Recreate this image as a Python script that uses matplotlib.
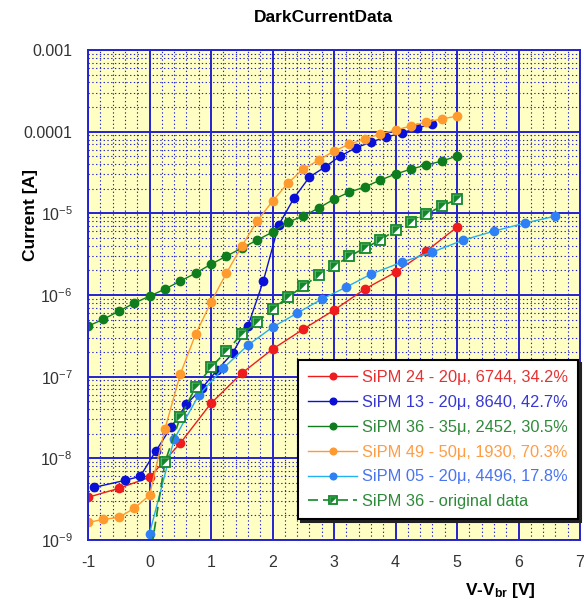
import math
import matplotlib
matplotlib.use('Agg')
import matplotlib.pyplot as plt
from matplotlib.ticker import MultipleLocator, LogLocator, FuncFormatter, NullFormatter
from matplotlib.legend_handler import HandlerTuple

plt.rcParams['font.family'] = ['Liberation Sans', 'DejaVu Sans']
plt.rcParams['mathtext.fontset'] = 'custom'
plt.rcParams['mathtext.rm'] = 'Liberation Sans'
plt.rcParams['mathtext.it'] = 'Liberation Sans:italic'
plt.rcParams['mathtext.bf'] = 'Liberation Sans:bold'

# ---------------- data ----------------
labels = [
    "SiPM 24 - 20\u03bc, 6744, 34.2%",
    "SiPM 13 - 20\u03bc, 8640, 42.7%",
    "SiPM 36 - 35\u03bc, 2452, 30.5%",
    "SiPM 49 - 50\u03bc, 1930, 70.3%",
    "SiPM 05 - 20\u03bc, 4496, 17.8%",
    "SiPM 36 - original data",
]

x_24 = [-1, -0.5, 0, 0.5, 1, 1.5, 2, 2.5, 3, 3.5, 4, 4.5, 5]
i_24 = [3.33e-9, 4.29e-9, 5.85e-9, 1.53e-8, 4.72e-8, 1.10e-7, 2.17e-7,
        3.81e-7, 6.52e-7, 1.18e-6, 1.90e-6, 3.44e-6, 6.78e-6]

x_13 = [-0.9, -0.4, -0.15, 0.1, 0.35, 0.6, 0.85, 1.1, 1.35, 1.6, 1.85, 2.1,
        2.35, 2.6, 2.85, 3.1, 3.35, 3.6, 3.85, 4.1, 4.35, 4.6]
i_13 = [4.41e-9, 5.37e-9, 6.02e-9, 1.22e-8, 2.40e-8, 4.59e-8, 7.21e-8,
        1.20e-7, 1.94e-7, 4.15e-7, 1.48e-6, 7.17e-6, 1.54e-5, 2.78e-5,
        3.68e-5, 5.02e-5, 6.30e-5, 7.46e-5, 8.59e-5, 9.61e-5, 1.11e-4, 1.24e-4]

x_36 = [-1, -0.75, -0.5, -0.25, 0, 0.25, 0.5, 0.75, 1, 1.25, 1.5, 1.75, 2,
        2.25, 2.5, 2.75, 3, 3.25, 3.5, 3.75, 4, 4.25, 4.5, 4.75, 5]
i_36 = [4.15e-7, 5.05e-7, 6.32e-7, 7.94e-7, 9.67e-7, 1.18e-6, 1.48e-6,
        1.85e-6, 2.38e-6, 2.99e-6, 3.75e-6, 4.70e-6, 5.89e-6, 7.8e-6,
        9.24e-6, 1.16e-5, 1.49e-5, 1.82e-5, 2.10e-5, 2.55e-5, 3.02e-5,
        3.48e-5, 3.90e-5, 4.36e-5, 5.02e-5]

x_49 = [-1, -0.75, -0.5, -0.25, 0, 0.25, 0.5, 0.75, 1, 1.25, 1.5, 1.75, 2,
        2.25, 2.5, 2.75, 3, 3.25, 3.5, 3.75, 4, 4.25, 4.5, 4.75, 5]
i_49 = [1.64e-9, 1.79e-9, 1.89e-9, 2.44e-9, 3.52e-9, 2.27e-8, 1.07e-7,
        3.31e-7, 8.16e-7, 1.85e-6, 3.96e-6, 8.02e-6, 1.41e-5, 2.34e-5,
        3.48e-5, 4.49e-5, 5.78e-5, 7.05e-5, 8.11e-5, 9.35e-5, 1.05e-4,
        1.17e-4, 1.31e-4, 1.43e-4, 1.55e-4]

x_05 = [0, 0.4, 0.8, 1.2, 1.6, 2.0, 2.4, 2.8, 3.2, 3.6, 4.1, 4.6, 5.1, 5.6, 6.1, 6.6]
i_05 = [1.20e-9, 1.71e-8, 5.92e-8, 1.27e-7, 2.43e-7, 4.03e-7, 5.98e-7,
        8.89e-7, 1.25e-6, 1.80e-6, 2.52e-6, 3.35e-6, 4.70e-6, 6.05e-6,
        7.59e-6, 9.24e-6]

x_orig = [0, 0.25, 0.5, 0.75, 1, 1.25, 1.5, 1.75, 2, 2.25, 2.5, 2.75, 3,
          3.25, 3.5, 3.75, 4, 4.25, 4.5, 4.75, 5]
i_orig = [5.5e-10, 8.93e-9, 3.18e-8, 7.41e-8, 1.30e-7, 2.05e-7, 3.31e-7,
          4.65e-7, 6.70e-7, 9.40e-7, 1.28e-6, 1.75e-6, 2.25e-6, 2.99e-6,
          3.75e-6, 4.70e-6, 6.22e-6, 7.80e-6, 9.77e-6, 1.22e-5, 1.49e-5]

# ---------------- styles ----------------
c_red = '#ee1c1c'
c_blue = '#0a10d8'
c_green = '#0f7d1e'
c_orange = '#ff9a2e'
c_lb_line = '#22b0ee'
c_lb_mark = '#2f80f5'
c_orig = '#11882a'
grid_c = '#2424d0'

text_colors = ['#e83030', '#3838d0', '#2f8a3a', '#ff9d45', '#4a74f0', '#2f8a3a']

fig = plt.figure(figsize=(5.84, 6.05), dpi=100)
ax = fig.add_axes([88 / 584, 65 / 605, 492 / 584, 490 / 605])
ax.set_facecolor('#ffffc4')
ax.set_yscale('log')
ax.set_xlim(-1, 7)
ax.set_ylim(1e-9, 1e-3)

ax.xaxis.set_major_locator(MultipleLocator(1))
ax.xaxis.set_minor_locator(MultipleLocator(0.2))
ax.yaxis.set_major_locator(LogLocator(base=10, numticks=20))
ax.yaxis.set_minor_locator(LogLocator(base=10, subs=range(2, 10), numticks=20))
ax.yaxis.set_minor_formatter(NullFormatter())
ax.xaxis.set_minor_formatter(NullFormatter())


def yfmt(v, pos):
    e = int(round(math.log10(v)))
    if e == -3:
        return '0.001'
    if e == -4:
        return '0.0001'
    return r'$10^{%d}$' % e


ax.yaxis.set_major_formatter(FuncFormatter(yfmt))
ax.xaxis.set_major_formatter(FuncFormatter(lambda v, p: '%d' % round(v)))

ax.set_axisbelow(True)
ax.grid(which='major', color=grid_c, lw=1.4, ls='-')
ax.grid(which='minor', color=grid_c, lw=0.8, ls=(0, (1.2, 2.2)))
ax.tick_params(which='both', length=0)
ax.tick_params(axis='y', pad=11, labelsize=11.5, labelcolor='#333333')
ax.tick_params(axis='x', pad=11, labelsize=11.5, labelcolor='#333333')
for s in ax.spines.values():
    s.set_color(grid_c)
    s.set_linewidth(1.4)

ms = 6
h24, = ax.plot(x_24, i_24, '-o', color=c_red, lw=1, ms=ms)
h13, = ax.plot(x_13, i_13, '-o', color=c_blue, lw=1, ms=ms)
h36, = ax.plot(x_36, i_36, '-o', color=c_green, lw=1, ms=ms)
h49, = ax.plot(x_49, i_49, '-o', color=c_orange, lw=1, ms=ms)
h05, = ax.plot(x_05, i_05, '-o', color=c_lb_line, mfc=c_lb_mark, mec=c_lb_mark, lw=1, ms=ms)
hor, = ax.plot(x_orig, i_orig, ls=(0, (6, 3)), color=c_orig, lw=1.2, marker='s',
               ms=7.5, mfc='white', mec=c_orig, mew=1.3)
htr, = ax.plot(x_orig, i_orig, ls='none', marker=[(-1, 1), (1, 1), (-1, -1)],
               ms=6, mfc=c_orig, mec=c_orig, mew=0.3)

leg = ax.legend([h24, h13, h36, h49, h05, (hor, htr)], labels,
                handler_map={tuple: HandlerTuple(ndivide=1)},
                loc='upper right', bbox_to_anchor=(0.996, 0.367),
                borderaxespad=0, fontsize=11.8, handlelength=3.0,
                handletextpad=0.3, labelspacing=0.6, borderpad=0.6,
                frameon=True, fancybox=False, edgecolor='black', framealpha=1,
                markerscale=0.8, shadow={'color': '#222222', 'alpha': 1})
leg.get_frame().set_linewidth(1.5)
for t, c in zip(leg.get_texts(), text_colors):
    t.set_color(c)

fig.text(323 / 584, 1 - 17 / 605, 'DarkCurrentData', ha='center', va='center',
         fontsize=12.5, weight='bold')
fig.text(30 / 584, 1 - 215 / 605, 'Current [A]', rotation=90, ha='center',
         va='center', fontsize=12.5, weight='bold')
fig.text(465 / 584, 1 - 590 / 605, r'V-V$_{\mathbf{br}}$ [V]', ha='left',
         va='center', fontsize=12.5, weight='bold')

fig.savefig('out.png', dpi=100)
